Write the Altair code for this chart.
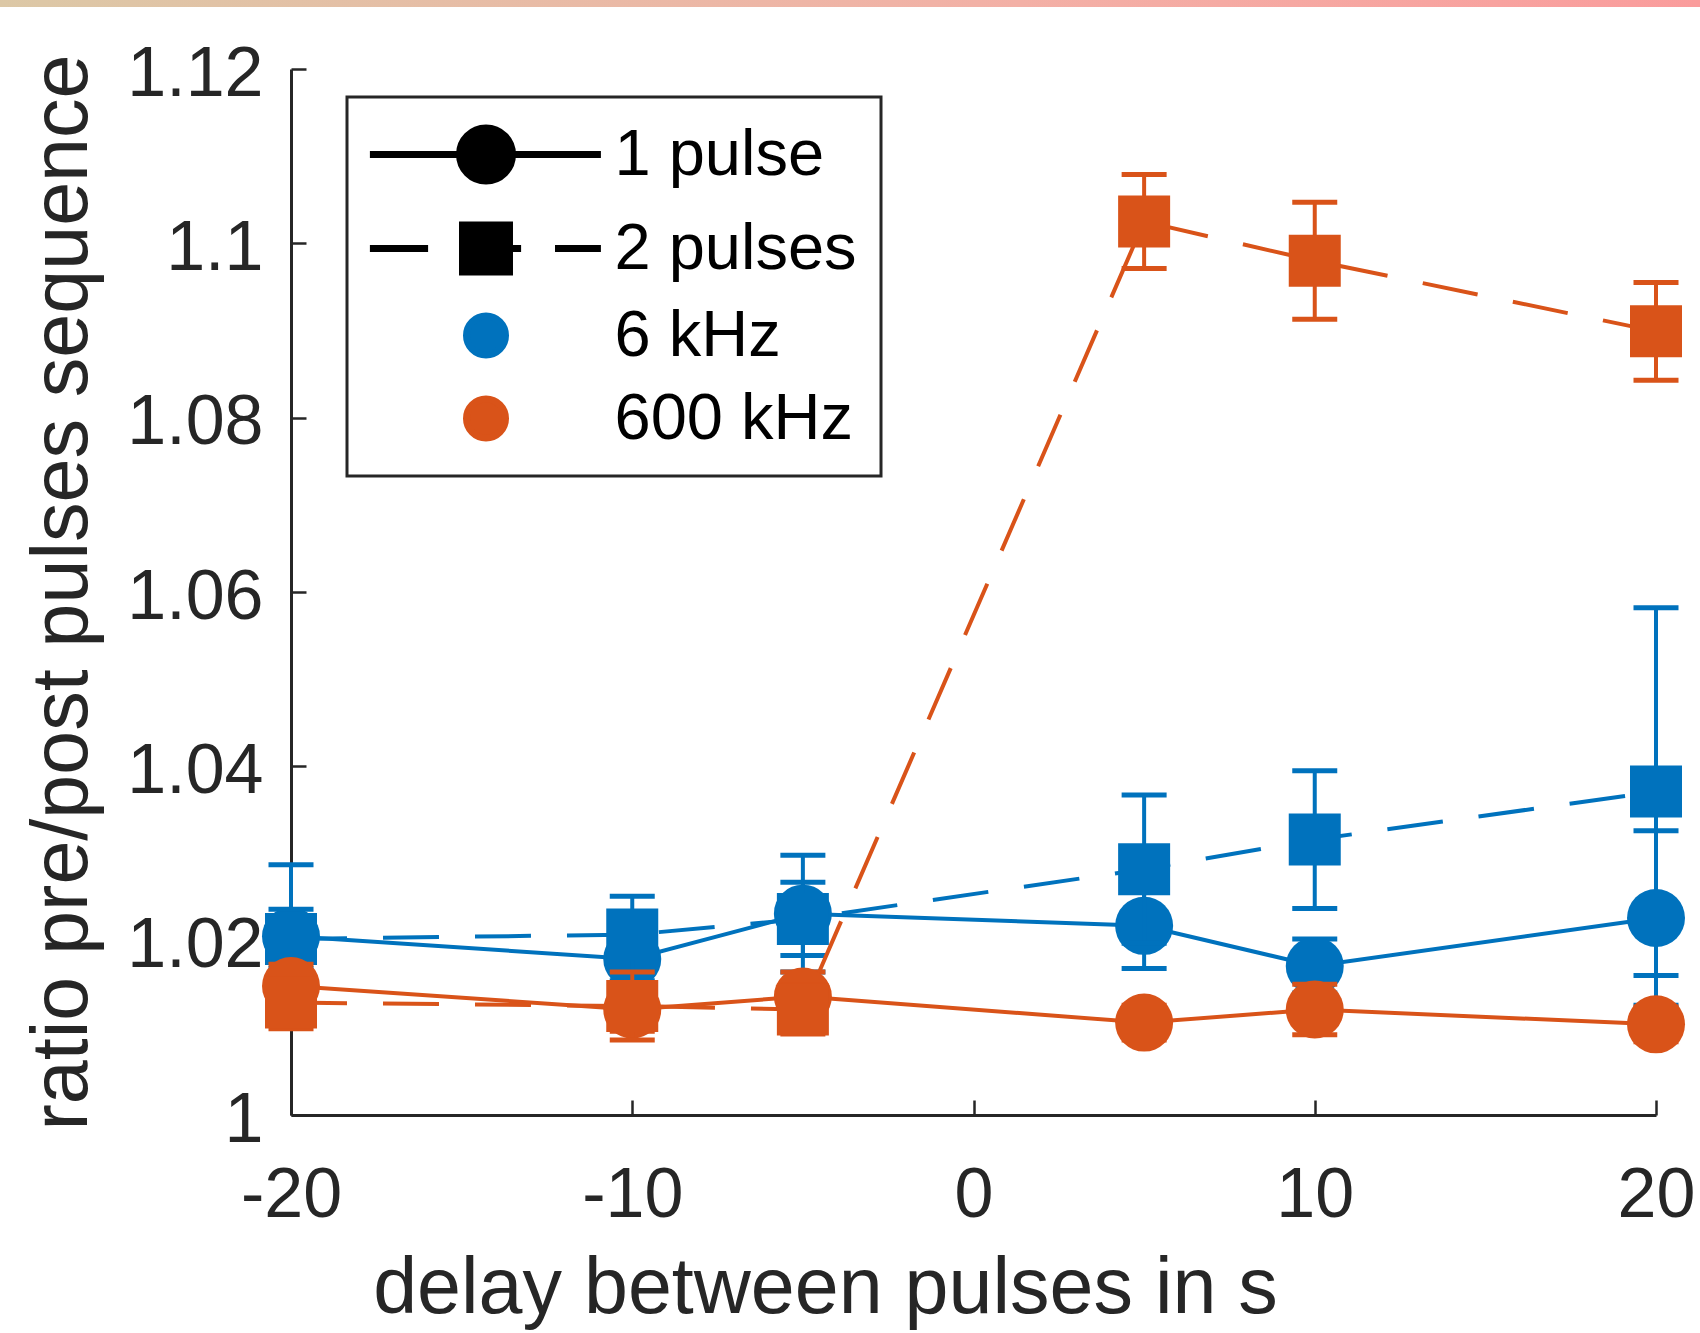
import altair as alt
import pandas as pd

# ---------------- data ----------------
delays = [-20, -10, -5, 5, 10, 20]

ratio_6k_1p = [1.0205, 1.0179, 1.0231, 1.0217, 1.0171, 1.0226]
err_6k_1p = [0.0082, 0.0025, 0.0067, 0.0049, 0.0031, 0.0100]

ratio_6k_2p = [1.0202, 1.0207, 1.0225, 1.0282, 1.0316, 1.0371]
err_6k_2p = [0.0034, 0.0044, 0.0042, 0.0085, 0.0079, 0.0211]

ratio_600k_1p = [1.0148, 1.0121, 1.0136, 1.0106, 1.0121, 1.0104]
err_600k_1p = [0.0025, 0.0025, 0.0028, 0.0020, 0.0029, 0.0020]

ratio_600k_2p = [1.0129, 1.0125, 1.0121, 1.1025, 1.0980, 1.0899]
err_600k_2p = [0.0030, 0.0039, 0.0028, 0.0054, 0.0067, 0.0056]

x_ticks = [-20, -10, 0, 10, 20]
y_ticks = [1, 1.02, 1.04, 1.06, 1.08, 1.1, 1.12]
legend_labels = ["1 pulse", "2 pulses", "6 kHz", "600 kHz"]

x_title = "delay between pulses in s"
y_title = "ratio pre/post pulses sequence"

# ---------------- styling ----------------
BLUE = "#0072BD"
ORANGE = "#D95319"
AX = "#262626"
FONT = "Liberation Sans"
W, H = 1365, 1046

XS = alt.Scale(domain=[-20, 20], nice=False, zero=False)
YS = alt.Scale(domain=[1, 1.12], nice=False, zero=False)

legend_colors = ["black", "black", BLUE, ORANGE]
legend_paths = [
    "M-3.87,0H3.83M0.883,0A0.883,0.883,0,1,1,-0.883,0A0.883,0.883,0,1,1,0.883,0Z",
    "M-3.87,0H-1.93M2.3,0H3.83M0.78,0H1.17M-0.783,-0.783H0.783V0.783H-0.783Z",
    "M0.65,0A0.65,0.65,0,1,1,-0.65,0A0.65,0.65,0,1,1,0.65,0Z",
    "M0.65,0A0.65,0.65,0,1,1,-0.65,0A0.65,0.65,0,1,1,0.65,0Z",
]

x_axis_main = alt.Axis(
    orient="bottom", values=x_ticks, labelExpr="toString(datum.value)",
    ticks=False, tickSize=0, grid=False,
    domain=True, domainColor=AX, domainWidth=3,
    labelFont=FONT, labelFontSize=70, labelColor=AX, labelPadding=46,
    labelFlush=False, labelOverlap=False,
    title=x_title, titleFont=FONT, titleFontSize=79, titleFontWeight="normal",
    titleColor=AX, titleX=534, titleY=197, titleAlign="center",
    titleBaseline="alphabetic", titleAnchor="start",
)
y_axis_main = alt.Axis(
    orient="left", values=y_ticks, format=".3~f",
    ticks=False, tickSize=0, grid=False,
    domain=True, domainColor=AX, domainWidth=3,
    labelFont=FONT, labelFontSize=70, labelColor=AX, labelPadding=28,
    labelOffset=5, labelFlush=False, labelOverlap=False,
    title=y_title, titleFont=FONT, titleFontSize=79, titleFontWeight="normal",
    titleColor=AX, titleX=-205, titleY=523, titleAngle=270, titleAlign="center",
    titleBaseline="alphabetic", titleAnchor="start",
)
# inward ticks: axes moved across the plot with a negative offset
x_axis_ticks = alt.Axis(
    orient="top", offset=-H, values=x_ticks, labels=False, domain=False,
    ticks=True, tickSize=15, tickWidth=2.5, tickColor=AX, grid=False, title=None,
)
y_axis_ticks = alt.Axis(
    orient="right", offset=-W, values=y_ticks, labels=False, domain=False,
    ticks=True, tickSize=15, tickWidth=2.5, tickColor=AX, grid=False, title=None,
)


def frame(ratio, err):
    return pd.DataFrame({
        "x": delays,
        "y": ratio,
        "lo": [r - e for r, e in zip(ratio, err)],
        "hi": [r + e for r, e in zip(ratio, err)],
    })


def caps(ratio, err):
    lo = [r - e for r, e in zip(ratio, err)]
    hi = [r + e for r, e in zip(ratio, err)]
    return pd.DataFrame({"x": delays + delays, "c": lo + hi})


series = [
    (ratio_6k_1p, err_6k_1p, BLUE, False, "circle"),
    (ratio_6k_2p, err_6k_2p, BLUE, True, "square"),
    (ratio_600k_1p, err_600k_1p, ORANGE, False, "circle"),
    (ratio_600k_2p, err_600k_2p, ORANGE, True, "square"),
]

layers = []

# decorative gradient strip at the top of the card
strip = alt.Chart(alt.Data(values=[{}])).mark_rect(
    color=alt.LinearGradient(
        gradient="linear",
        stops=[alt.GradientStop(color="#dcc8a6", offset=0),
               alt.GradientStop(color="#f3b0a6", offset=0.6),
               alt.GradientStop(color="#fa9c9c", offset=1)],
        x1=0, x2=1, y1=0, y2=0,
    )
).encode(x=alt.value(-291), x2=alt.value(1409), y=alt.value(-69), y2=alt.value(-62))
layers.append(strip)

n = len(series)
for i, (ratio, err, color, dashed, shape) in enumerate(series):
    df = frame(ratio, err)
    first = i == 0
    last = i == n - 1
    rule = alt.Chart(df).mark_rule(color=color, strokeWidth=4).encode(
        x=alt.X("x:Q", scale=XS, axis=x_axis_main if first else None),
        y=alt.Y("lo:Q", scale=YS, axis=y_axis_main if first else None),
        y2="hi:Q",
    )
    cap = alt.Chart(caps(ratio, err)).mark_tick(
        color=color, orient="horizontal", size=45, thickness=5, opacity=1
    ).encode(
        x=alt.X("x:Q", scale=XS, axis=None),
        y=alt.Y("c:Q", scale=YS, axis=None),
    )
    line_kw = dict(color=color, strokeWidth=4)
    if dashed:
        line_kw["strokeDash"] = [56, 36]
    line = alt.Chart(df).mark_line(**line_kw).encode(
        x=alt.X("x:Q", scale=XS, axis=None),
        y=alt.Y("y:Q", scale=YS, axis=None),
    )
    pts = alt.Chart(df).mark_point(
        filled=True, shape=shape, size=3364 if shape == "circle" else 2704,
        color=color, opacity=1,
    ).encode(
        x=alt.X("x:Q", scale=XS, axis=x_axis_ticks if last else None),
        y=alt.Y("y:Q", scale=YS, axis=y_axis_ticks if last else None),
    )
    layers += [rule, cap, line, pts]

# legend (one merged legend with custom symbols)
leg = alt.Legend(
    orient="none", legendX=56, legendY=28, direction="vertical", title=None,
    padding=24, fillColor="white", strokeColor=AX, cornerRadius=0,
    labelFont=FONT, labelFontSize=65, labelColor="black", labelLimit=600,
    labelOffset=95, symbolOffset=81.5, symbolSize=3600, symbolStrokeWidth=7,
    symbolOpacity=1, rowPadding=16,
)
legend_df = pd.DataFrame({"entry": legend_labels})
legend_layer = alt.Chart(legend_df).mark_point(filled=True, opacity=0).encode(
    x=alt.value(0),
    y=alt.value(0),
    fill=alt.Fill("entry:N", title=None, legend=leg,
                  scale=alt.Scale(domain=legend_labels, range=legend_colors)),
    stroke=alt.Stroke("entry:N", title=None, legend=leg,
                      scale=alt.Scale(domain=legend_labels, range=legend_colors)),
    shape=alt.Shape("entry:N", title=None, legend=leg,
                    scale=alt.Scale(domain=legend_labels, range=legend_paths)),
)
layers.append(legend_layer)

chart = (
    alt.layer(*layers)
    .resolve_axis(x="independent", y="independent")
    .properties(
        width=W, height=H,
        autosize=alt.AutoSizeParams(type="none"),
        padding={"left": 291, "top": 69, "right": 44, "bottom": 218},
        background="white",
    )
    .configure_view(stroke=None)
    .configure_legend(strokeWidth=3)
)

chart.save("out.html", embed_options={"renderer": "svg", "actions": False})
